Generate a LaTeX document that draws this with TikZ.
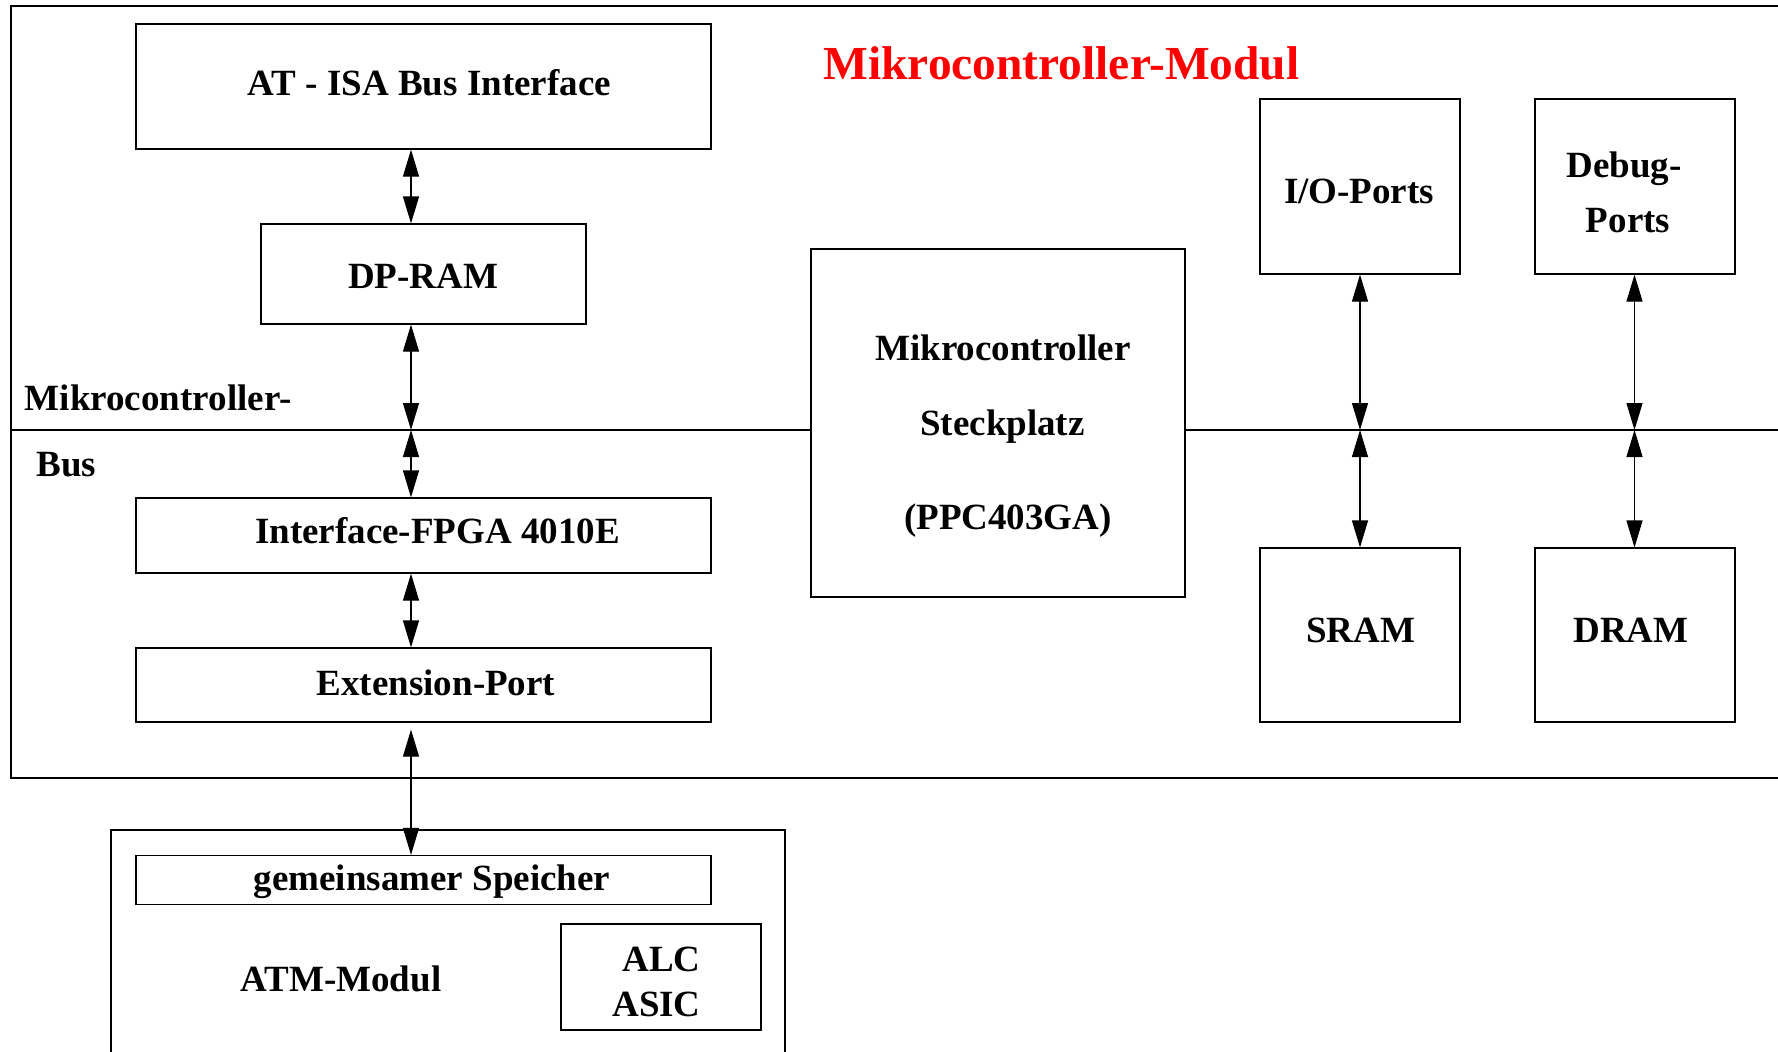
\documentclass[tikz,border=0pt]{standalone}
\usepackage{fontspec}
\setmainfont{Liberation Serif}
\usetikzlibrary{arrows.meta}
\begin{document}
\begin{tikzpicture}[x=0.5pt,y=-0.5pt,
  box/.style={draw,line width=0.6pt,inner sep=0pt,anchor=center},
  txt/.style={inner sep=0pt,anchor=base,font=\bfseries\fontsize{18.5}{22}\selectfont},
  txtl/.style={txt,anchor=base west},
  biarrow/.style={line width=0.6pt,{Triangle[length=13.5pt,width=8pt]}-{Triangle[length=13.5pt,width=8pt]}}]
\useasboundingbox (0,0) rectangle (1778,1051);
\clip (0,0) rectangle (1778,1051);
% containers
\node[box,minimum width=894.5pt,minimum height=386pt] (mcmodul) at (905.5,392) {};
\node[box,minimum width=337pt,minimum height=121pt] (atmmod) at (448,951) {};
% boxes
\node[box,minimum width=287.5pt,minimum height=62.5pt] (at) at (423.5,86.5) {};
\node[box,minimum width=162.5pt,minimum height=50pt] (dpram) at (423.5,274) {};
\node[box,minimum width=187pt,minimum height=174pt] (mc) at (998,423) {};
\node[box,minimum width=100pt,minimum height=87.5pt] (io) at (1360,186.5) {};
\node[box,minimum width=100pt,minimum height=87.5pt] (dbg) at (1635,186.5) {};
\node[box,minimum width=100pt,minimum height=87pt] (sram) at (1360,635) {};
\node[box,minimum width=100pt,minimum height=87pt] (dram) at (1635,635) {};
\node[box,minimum width=287.5pt,minimum height=37.5pt] (fpga) at (423.5,535.5) {};
\node[box,minimum width=287.5pt,minimum height=37pt] (ext) at (423.5,685) {};
\node[box,minimum width=287.5pt,minimum height=24.5pt] (gem) at (423.5,880) {};
\node[box,minimum width=100pt,minimum height=53pt] (alc) at (661,977) {};
% texts
\node[txt,font=\bfseries\fontsize{23.7}{28}\selectfont,text=red] (title) at (1061.5,79) {Mikrocontroller-Modul};
\node[txt] (at-t) at (429.5,95) {AT - ISA Bus Interface};
\node[txt] (dpram-t) at (423,288) {DP-RAM};
\node[txt] (mc-t1) at (1003,360) {Mikrocontroller};
\node[txt] (mc-t2) at (1002.5,435) {Steckplatz};
\node[txt] (mc-t3) at (1008,529) {(PPC403GA)};
\node[txt] (io-t) at (1359,203) {I/O-Ports};
\node[txt] (dbg-t1) at (1624,177) {Debug-};
\node[txt] (dbg-t2) at (1628,232) {Ports};
\node[txt] (sram-t) at (1360.5,642) {SRAM};
\node[txt] (dram-t) at (1631,642) {DRAM};
\node[txt] (fpga-t) at (437.5,543) {Interface-FPGA 4010E};
\node[txt] (ext-t) at (436,695) {Extension-Port};
\node[txt] (gem-t) at (432,890) {gemeinsamer Speicher};
\node[txt] (atm-t) at (341,991) {ATM-Modul};
\node[txt] (alc-t1) at (661.5,971) {ALC};
\node[txt] (alc-t2) at (656.5,1016) {ASIC};
\node[txtl] (bus-t1) at (24.5,410.5) {Mikrocontroller-};
\node[txtl] (bus-t2) at (36,476) {Bus};
% bus
\coordinate (busL) at (411,430);
\coordinate (busIO) at (1360,430);
\coordinate (busDbg) at (1634.5,430);
\draw[line width=0.6pt] (mcmodul.west |- busL) -- (mc.west |- busL);
\draw[line width=0.6pt] (mc.east |- busL) -- (mcmodul.east |- busL);
% connectors
\draw[biarrow] (at.south -| busL) -- (dpram.north -| busL);
\draw[biarrow] (dpram.south -| busL) -- (busL);
\draw[biarrow] (busL) -- (fpga.north -| busL);
\draw[biarrow] (fpga.south -| busL) -- (ext.north -| busL);
\draw[biarrow,shorten <=3.5pt] (ext.south -| busL) -- (gem.north -| busL);
\draw[biarrow] (io.south -| busIO) -- (busIO);
\draw[biarrow] (busIO) -- (sram.north -| busIO);
\draw[biarrow] (dbg.south -| busDbg) -- (busDbg);
\draw[biarrow] (busDbg) -- (dram.north -| busDbg);
\end{tikzpicture}
\end{document}
